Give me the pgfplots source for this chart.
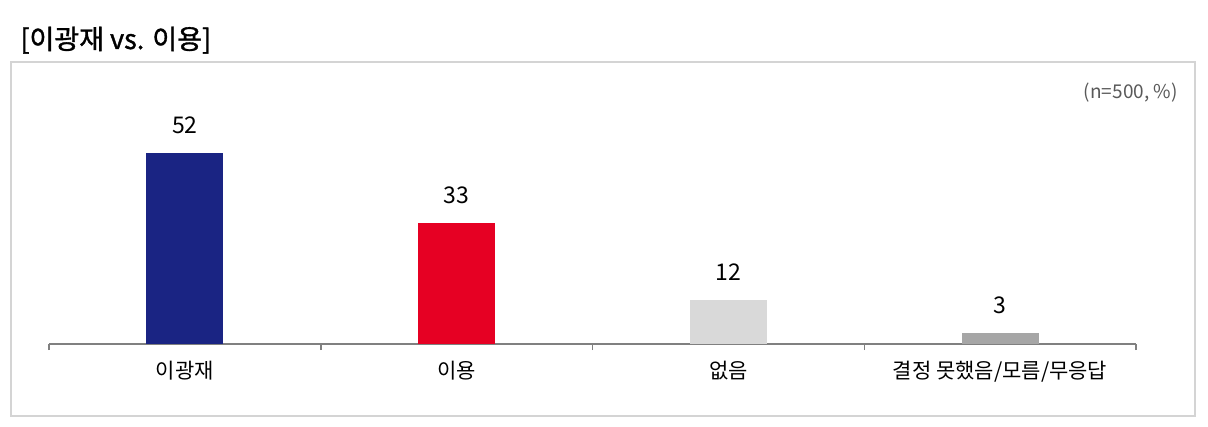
\documentclass[border=0pt]{standalone}
\usepackage{fontspec}
\setmainfont{Noto Sans CJK KR}
\newfontfamily\titlefont[FakeBold=1.2]{Noto Sans CJK KR}
\usepackage{pgfplots}
\pgfplotsset{compat=1.18}
\definecolor{barblue}{HTML}{1A2483}
\definecolor{barred}{HTML}{E60023}
\definecolor{barlight}{HTML}{D9D9D9}
\definecolor{bargray}{HTML}{A6A6A6}
\definecolor{axisgray}{HTML}{808080}
\definecolor{boxgray}{HTML}{D4D4D4}
\definecolor{notegray}{HTML}{595959}
\begin{document}
\begin{tikzpicture}
% page frame: 1208 x 427 px at 0.5pt per px
\path (0,0) rectangle (604pt,-213.5pt);
\draw[boxgray, line width=0.6pt] (5.5pt,-31pt) rectangle (597.5pt,-208pt);
\node[anchor=base west, inner sep=0, font=\titlefont\fontsize{13.5}{15}\selectfont] at (10pt,-24.5pt) {[이광재 vs. 이용]};
\node[anchor=east, inner sep=0, text=notegray, font=\fontsize{9.5}{11}\selectfont] at (589pt,-46.5pt) {(n=500, \%)};
\begin{axis}[
    at={(24.5pt,-172pt)}, anchor=south west,
    scale only axis,
    width=543.5pt, height=110.2pt,
    xmin=-0.5, xmax=3.5,
    ymin=0, ymax=60,
    axis x line*=bottom,
    axis y line=none,
    axis line style={axisgray, line width=0.75pt},
    xtick={0,1,2,3},
    xticklabels={이광재, 이용, 없음, 결정 못했음/모름/무응답},
    major tick length=0pt,
    minor xtick={-0.5,0.5,1.5,2.5,3.5},
    minor tick length=3pt,
    tick align=outside,
    minor tick style={axisgray, line width=0.75pt},
    xticklabel style={font=\fontsize{10.5}{12}\selectfont, yshift=-5pt},
    ybar, bar width=38.5pt,
    nodes near coords,
    /pgf/number format/assume math mode=true,
    nodes near coords style={font=\fontsize{11.5}{13}\selectfont, anchor=south, yshift=6pt, text=black},
    clip=false,
]
\addplot[draw=none, fill=barblue, bar shift=0pt] coordinates {(0,52)};
\addplot[draw=none, fill=barred, bar shift=0pt] coordinates {(1,33)};
\addplot[draw=none, fill=barlight, bar shift=0pt] coordinates {(2,12)};
\addplot[draw=none, fill=bargray, bar shift=0pt] coordinates {(3,3)};
\end{axis}
\end{tikzpicture}
\end{document}
